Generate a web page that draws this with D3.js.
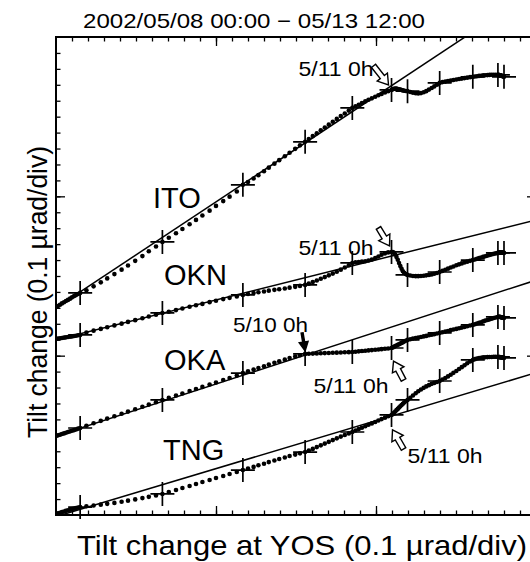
<!DOCTYPE html>
<html>
<head>
<meta charset="utf-8">
<script src="https://cdn.jsdelivr.net/npm/d3@7"></script>
<style>
  body { margin: 0; background: #fff; }
  svg { display: block; font-family: "Liberation Sans", Arial, sans-serif; }
</style>
</head>
<body>
<div id="chart"></div>
<script>
const width = 530;
const height = 562;
const margin = { top: 37, right: -6, bottom: 47, left: 56 };

// hourly samples, 2002/05/08 00:00 .. 05/13 12:00 (index = hour)
// tilt change at YOS, in divisions (0.1 urad/div)
const yos = [
  0.00, 0.12, 0.25, 0.37, 0.50, 0.62, 0.75, 0.88, 1.00, 1.13, 1.25, 1.38, 1.51,
  1.9, 2.35, 2.8, 3.2, 3.65, 4.1, 4.5, 4.95, 5.4, 5.8, 6.25, 6.65,
  7.05, 7.5, 7.9, 8.35, 8.75, 9.15, 9.6, 10.0, 10.45, 10.85, 11.3, 11.68,
  12.0, 12.35, 12.65, 13.0, 13.3, 13.65, 13.95, 14.3, 14.6, 14.95, 15.25, 15.57,
  15.8, 16.05, 16.3, 16.55, 16.8, 17.05, 17.3, 17.55, 17.8, 18.05, 18.3, 18.52,
  18.72, 18.92, 19.12, 19.33, 19.53, 19.74, 19.95, 20.15, 20.35, 20.56, 20.76, 20.97,
  21.05, 21.13, 21.2, 21.28, 21.36, 21.44, 21.52, 21.6, 21.68, 21.76, 21.86, 21.97,
  22.14, 22.31, 22.48, 22.64, 22.81, 22.98, 23.14, 23.31, 23.48, 23.64, 23.81, 23.98,
  24.15, 24.33, 24.5, 24.67, 24.84, 25.02, 25.19, 25.36, 25.53, 25.7, 25.88, 26.05,
  26.18, 26.31, 26.44, 26.57, 26.7, 26.83, 26.97, 27.1, 27.23, 27.36, 27.49, 27.62,
  27.65, 27.68, 27.71, 27.74, 27.77, 27.8, 27.84, 27.87, 27.9, 27.93, 27.96, 28.0
];

// tilt change at each station (divisions, arbitrary offsets)
const ito = [
  13.05, 13.12, 13.2, 13.28, 13.35, 13.43, 13.5, 13.58, 13.66, 13.74, 13.8, 13.87, 13.94,
  14.1, 14.35, 14.6, 14.85, 15.12, 15.4, 15.66, 15.95, 16.25, 16.55, 16.85, 17.14,
  17.4, 17.68, 17.95, 18.25, 18.52, 18.8, 19.1, 19.4, 19.7, 19.98, 20.3, 20.72,
  20.9, 21.12, 21.33, 21.57, 21.8, 22.05, 22.27, 22.52, 22.74, 22.98, 23.2, 23.42,
  23.6, 23.78, 23.96, 24.14, 24.32, 24.5, 24.68, 24.86, 25.04, 25.2, 25.38, 25.55,
  25.65, 25.75, 25.86, 25.96, 26.06, 26.15, 26.25, 26.34, 26.43, 26.52, 26.6, 26.68,
  26.72, 26.75, 26.76, 26.76, 26.74, 26.72, 26.7, 26.67, 26.65, 26.63, 26.61, 26.6,
  26.55, 26.5, 26.47, 26.46, 26.48, 26.53, 26.6, 26.7, 26.8, 26.9, 27.0, 27.12,
  27.17, 27.2, 27.24, 27.27, 27.3, 27.33, 27.36, 27.39, 27.42, 27.45, 27.48, 27.5,
  27.52, 27.54, 27.56, 27.57, 27.59, 27.6, 27.61, 27.62, 27.63, 27.63, 27.63, 27.62,
  27.62, 27.61, 27.61, 27.6, 27.59, 27.58, 27.57, 27.56, 27.55, 27.54, 27.52, 27.5
];
const okn = [
  11.05, 11.07, 11.09, 11.11, 11.13, 11.15, 11.17, 11.19, 11.21, 11.23, 11.25, 11.28, 11.3,
  11.45, 11.57, 11.68, 11.78, 11.9, 12.01, 12.12, 12.23, 12.35, 12.46, 12.57, 12.68,
  12.76, 12.86, 12.96, 13.07, 13.16, 13.25, 13.36, 13.45, 13.55, 13.63, 13.72, 13.81,
  13.87, 13.93, 13.98, 14.03, 14.08, 14.13, 14.17, 14.22, 14.27, 14.32, 14.38, 14.44,
  14.52, 14.62, 14.72, 14.83, 14.93, 15.04, 15.15, 15.27, 15.4, 15.53, 15.67, 15.82,
  15.86, 15.88, 15.9, 15.93, 15.97, 16.03, 16.12, 16.22, 16.33, 16.42, 16.48, 16.51,
  16.5, 16.45, 16.35, 16.2, 16.02, 15.82, 15.62, 15.45, 15.3, 15.2, 15.12, 15.07,
  15.03, 15.0, 14.99, 14.99, 15.0, 15.02, 15.04, 15.07, 15.1, 15.14, 15.19, 15.25,
  15.32, 15.39, 15.46, 15.53, 15.6, 15.67, 15.73, 15.79, 15.85, 15.9, 15.95, 16.0,
  16.04, 16.08, 16.12, 16.16, 16.2, 16.24, 16.28, 16.32, 16.36, 16.39, 16.42, 16.45,
  16.46, 16.47, 16.47, 16.48, 16.48, 16.48, 16.48, 16.47, 16.47, 16.46, 16.46, 16.45
];
const oka = [
  4.96, 5.0, 5.04, 5.08, 5.12, 5.16, 5.21, 5.25, 5.29, 5.33, 5.37, 5.42, 5.46,
  5.6, 5.76, 5.91, 6.05, 6.2, 6.35, 6.49, 6.64, 6.79, 6.93, 7.08, 7.22,
  7.35, 7.5, 7.63, 7.78, 7.91, 8.04, 8.19, 8.32, 8.47, 8.6, 8.75, 8.91,
  9.02, 9.13, 9.23, 9.34, 9.44, 9.55, 9.65, 9.75, 9.85, 9.95, 10.03, 10.11,
  10.12, 10.13, 10.14, 10.15, 10.16, 10.17, 10.18, 10.19, 10.2, 10.21, 10.22, 10.23,
  10.25, 10.27, 10.29, 10.31, 10.33, 10.35, 10.37, 10.39, 10.41, 10.43, 10.45, 10.48,
  10.52, 10.56, 10.6, 10.64, 10.68, 10.72, 10.76, 10.8, 10.84, 10.89, 10.94, 10.99,
  11.03, 11.07, 11.1, 11.14, 11.17, 11.21, 11.24, 11.28, 11.31, 11.35, 11.39, 11.43,
  11.47, 11.51, 11.55, 11.6, 11.64, 11.68, 11.72, 11.76, 11.8, 11.85, 11.89, 11.93,
  11.97, 12.02, 12.06, 12.1, 12.15, 12.2, 12.24, 12.28, 12.32, 12.36, 12.4, 12.43,
  12.44, 12.44, 12.44, 12.43, 12.43, 12.42, 12.41, 12.4, 12.39, 12.38, 12.38, 12.37
];
const tng = [
  0.06, 0.1, 0.14, 0.18, 0.22, 0.26, 0.3, 0.33, 0.37, 0.4, 0.43, 0.47, 0.5,
  0.55, 0.6, 0.65, 0.7, 0.76, 0.83, 0.9, 0.98, 1.06, 1.14, 1.23, 1.32,
  1.44, 1.57, 1.69, 1.82, 1.95, 2.07, 2.2, 2.32, 2.45, 2.57, 2.7, 2.82,
  2.92, 3.02, 3.12, 3.22, 3.32, 3.42, 3.51, 3.61, 3.7, 3.79, 3.87, 3.95,
  4.05, 4.15, 4.26, 4.37, 4.48, 4.59, 4.7, 4.81, 4.92, 5.02, 5.12, 5.21,
  5.3, 5.39, 5.48, 5.57, 5.66, 5.75, 5.84, 5.93, 6.02, 6.11, 6.2, 6.28,
  6.35, 6.42, 6.5, 6.58, 6.66, 6.74, 6.82, 6.9, 6.98, 7.06, 7.14, 7.22,
  7.35, 7.5, 7.64, 7.77, 7.88, 7.98, 8.07, 8.15, 8.23, 8.29, 8.35, 8.41,
  8.5, 8.6, 8.7, 8.8, 8.92, 9.04, 9.16, 9.28, 9.4, 9.52, 9.63, 9.73,
  9.78, 9.82, 9.85, 9.87, 9.89, 9.9, 9.91, 9.92, 9.92, 9.93, 9.93, 9.92,
  9.92, 9.92, 9.91, 9.91, 9.9, 9.9, 9.89, 9.89, 9.88, 9.87, 9.87, 9.86
];

const stations = ['ITO', 'OKN', 'OKA', 'TNG'];
const series = [ito, okn, oka, tng];
// linear trend fitted to the early part of each record
const fitIntercept = [13.0, 10.99, 4.96, -0.1];
const fitSlope = [0.665, 0.251, 0.326, 0.301];

const titleText = '2002/05/08 00:00  \u2212 05/13 12:00';
const xLabel = 'Tilt change at YOS (0.1 \u00b5rad/div)';
const yLabel = 'Tilt change (0.1 \u00b5rad/div)';

// annotated epochs: station index, hour index
const notes = [
  { s: 0, h: 72, text: '5/11 0h', tip: [-3, -5], tail: [-18, -24], at: [-93, -14], hollow: true },
  { s: 1, h: 72, text: '5/11 0h', tip: [-2, -6], tail: [-13, -24], at: [-93, 3], hollow: true },
  { s: 2, h: 48, text: '5/10 0h', tip: [0, -3], tail: [-3, -21], at: [-72, -22], hollow: false },
  { s: 2, h: 72, text: '5/11 0h', tip: [2, 13], tail: [12, 32], at: [-78, 45], hollow: true },
  { s: 3, h: 72, text: '5/11 0h', tip: [1, 15], tail: [12, 34], at: [16, 48], hollow: true },
];

const svg = d3.select('#chart')
  .append('svg')
  .attr('width', width)
  .attr('height', height);

const x = d3.scaleLinear()
  .domain([0, 30])
  .range([margin.left, width - margin.right]);

const y = d3.scaleLinear()
  .domain([0, 30])
  .range([height - margin.bottom, margin.top]);

const x0 = x(0), x1 = x(30), y0 = y(0), y1 = y(30);

svg.append('clipPath').attr('id', 'plot')
  .append('rect')
  .attr('x', x0).attr('y', y1)
  .attr('width', x1 - x0).attr('height', y0 - y1);

// ticks on all four sides, pointing in
const minor = d3.range(1, 30);
const major = [10, 20];
function ticks(g, axis, scale, len, vals) {
  g.call(axis(scale).tickValues(vals).tickSize(-len).tickFormat(''))
    .call(a => a.select('.domain').remove())
    .selectAll('line').attr('stroke', '#000').attr('stroke-width', 1.3);
}
[[minor, 4.5], [major, 9]].forEach(([vals, len]) => {
  svg.append('g').attr('transform', `translate(0,${y0})`).call(ticks, d3.axisBottom, x, len, vals);
  svg.append('g').attr('transform', `translate(0,${y1})`).call(ticks, d3.axisTop, x, len, vals);
  svg.append('g').attr('transform', `translate(${x0},0)`).call(ticks, d3.axisLeft, y, len, vals);
  svg.append('g').attr('transform', `translate(${x1},0)`).call(ticks, d3.axisRight, y, len, vals);
});

svg.append('rect')
  .attr('x', x0).attr('y', y1)
  .attr('width', x1 - x0).attr('height', y0 - y1)
  .attr('fill', 'none').attr('stroke', '#000').attr('stroke-width', 2);

const plot = svg.append('g').attr('clip-path', 'url(#plot)');

// fitted trend lines
plot.selectAll('line.fit')
  .data(stations.map((d, i) => ({ a: fitIntercept[i], b: fitSlope[i] })))
  .join('line')
  .attr('class', 'fit')
  .attr('x1', x(0)).attr('y1', d => y(d.a))
  .attr('x2', x(30)).attr('y2', d => y(d.a + d.b * 30))
  .attr('stroke', '#000').attr('stroke-width', 1.5);

// hourly samples as dots
series.forEach(vals => {
  plot.append('g')
    .selectAll('circle')
    .data(vals)
    .join('circle')
    .attr('cx', (d, i) => x(yos[i]))
    .attr('cy', d => y(d))
    .attr('r', 2.3)
    .attr('fill', '#000');
});

// + every 12 hours
const cross = 12;
series.forEach(vals => {
  svg.append('g')
    .selectAll('path')
    .data(vals.map((d, i) => [yos[i], d]).filter((d, i) => i > 0 && i % 12 === 0))
    .join('path')
    .attr('d', d => {
      const px = x(d[0]), py = y(d[1]);
      return `M${px - cross},${py}H${px + cross}M${px},${py - cross}V${py + cross}`;
    })
    .attr('stroke', '#000').attr('stroke-width', 1.7).attr('fill', 'none');
});

// station names
const nameAt = [[153, 208], [164, 285], [164, 370], [163, 460]];
svg.selectAll('text.name')
  .data(stations)
  .join('text')
  .attr('class', 'name')
  .attr('x', (d, i) => nameAt[i][0])
  .attr('y', (d, i) => nameAt[i][1])
  .attr('font-size', 29)
  .text(d => d);

// arrows + epoch labels
function arrowShape(t, p, hollow) {
  const dx = p[0] - t[0], dy = p[1] - t[1];
  const L = Math.hypot(dx, dy), ux = dx / L, uy = dy / L;
  const hl = hollow ? 10 : 9, hw = hollow ? 6.5 : 4.5, sw = hollow ? 2.6 : 1;
  const b = L - hl;
  const pts = [[0, -sw], [b, -sw], [b, -hw], [L, 0], [b, hw], [b, sw], [0, sw]];
  return 'M' + pts.map(([a, c]) => [t[0] + ux * a - uy * c, t[1] + uy * a + ux * c].join(',')).join('L') + 'Z';
}
notes.forEach(n => {
  const px = x(yos[n.h]), py = y(series[n.s][n.h]);
  svg.append('path')
    .attr('d', arrowShape([px + n.tail[0], py + n.tail[1]], [px + n.tip[0], py + n.tip[1]], n.hollow))
    .attr('fill', n.hollow ? '#fff' : '#000')
    .attr('stroke', '#000').attr('stroke-width', 1.4)
    .attr('stroke-linejoin', 'miter');
  svg.append('text')
    .attr('x', px + n.at[0]).attr('y', py + n.at[1])
    .attr('font-size', 21)
    .attr('textLength', 75).attr('lengthAdjust', 'spacingAndGlyphs')
    .text(n.text);
});

svg.append('text')
  .attr('x', 83).attr('y', 28)
  .attr('font-size', 21)
  .attr('textLength', 342).attr('lengthAdjust', 'spacingAndGlyphs')
  .text(titleText);

svg.append('text')
  .attr('x', 302).attr('y', 555)
  .attr('text-anchor', 'middle')
  .attr('font-size', 28)
  .attr('textLength', 450).attr('lengthAdjust', 'spacingAndGlyphs')
  .text(xLabel);

svg.append('text')
  .attr('transform', 'translate(47,292) rotate(-90)')
  .attr('text-anchor', 'middle')
  .attr('font-size', 27)
  .attr('textLength', 292).attr('lengthAdjust', 'spacingAndGlyphs')
  .text(yLabel);
</script>
</body>
</html>
